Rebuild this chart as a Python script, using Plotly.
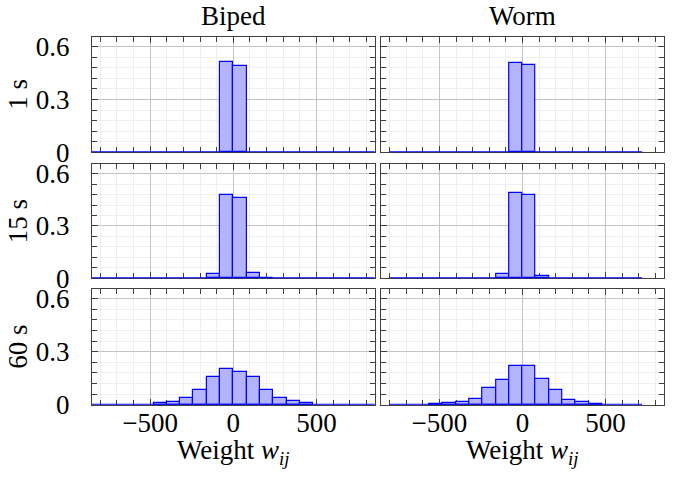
import plotly.graph_objects as go

# ---------------- data ----------------
bin_width = 80
columns = ["Biped", "Worm"]
rows = ["1 s", "15 s", "60 s"]
x_ticks = [-500, 0, 500]
y_ticks = [0, 0.3, 0.6]

# span of the histogram baseline (min/max of data range)
biped_span = [-880, 880]
worm_span = [-800, 720]

# left bin edges and normalised frequencies
biped_1s_edges = [-80, 0]
biped_1s = [0.511, 0.492]
worm_1s_edges = [-80, 0]
worm_1s = [0.506, 0.498]

biped_15s_edges = [-160, -80, 0, 80, 160]
biped_15s = [0.027, 0.480, 0.460, 0.033, 0.004]
worm_15s_edges = [-160, -80, 0, 80]
worm_15s = [0.023, 0.487, 0.476, 0.013]

biped_60s_edges = [-480, -400, -320, -240, -160, -80, 0, 80, 160, 240, 320, 400]
biped_60s = [0.011, 0.014, 0.040, 0.083, 0.157, 0.200, 0.183, 0.156, 0.086, 0.038, 0.019, 0.009]
worm_60s_edges = [-560, -480, -400, -320, -240, -160, -80, 0, 80, 160, 240, 320, 400]
worm_60s = [0.002, 0.007, 0.017, 0.030, 0.093, 0.140, 0.218, 0.217, 0.148, 0.083, 0.028, 0.013, 0.002]

panels = [
    [(biped_1s_edges, biped_1s, biped_span), (worm_1s_edges, worm_1s, worm_span)],
    [(biped_15s_edges, biped_15s, biped_span), (worm_15s_edges, worm_15s, worm_span)],
    [(biped_60s_edges, biped_60s, biped_span), (worm_60s_edges, worm_60s, worm_span)],
]

# ---------------- layout geometry ----------------
W, H = 681, 478
col_px = [(92, 374.7), (381.3, 663.7)]
row_px = [(37, 152.3), (164, 278.3), (289, 404.7)]

FONT = "Liberation Serif"
FS = 27
FILL = "#b3b3ff"
EDGE = "#0000ff"
FRAME = "#404040"

fig = go.Figure()
layout = dict(
    width=W, height=H, autosize=False,
    margin=dict(l=0, r=0, t=0, b=0, autoexpand=False),
    paper_bgcolor="white", plot_bgcolor="white",
    showlegend=False, bargap=0,
    font=dict(family=FONT, size=FS, color="black"),
)

annotations = []
idx = 0
for r in range(3):
    for c in range(2):
        idx += 1
        edges, vals, span = panels[r][c]
        xa = "x" if idx == 1 else f"x{idx}"
        ya = "y" if idx == 1 else f"y{idx}"
        centers = [e + bin_width / 2 for e in edges]
        fig.add_trace(go.Bar(
            x=centers, y=vals, width=bin_width,
            marker=dict(color=FILL, line=dict(color=EDGE, width=1.2)),
            xaxis=xa, yaxis=ya, hoverinfo="skip",
        ))
        fig.add_trace(go.Scatter(
            x=span, y=[0, 0], mode="lines",
            line=dict(color=EDGE, width=2),
            xaxis=xa, yaxis=ya, hoverinfo="skip",
        ))
        x0, x1 = col_px[c]
        yt, yb = row_px[r]
        xkey = "xaxis" if idx == 1 else f"xaxis{idx}"
        ykey = "yaxis" if idx == 1 else f"yaxis{idx}"
        layout[xkey] = dict(
            domain=[x0 / W, x1 / W], anchor=ya, range=[-850, 850],
            automargin=False,
            tickmode="array", tickvals=x_ticks,
            ticktext=[f"{v:d}".replace("-", "\u2212") for v in x_ticks],
            showticklabels=(r == 2),
            ticks="inside", ticklen=6, tickcolor=FRAME, tickwidth=1,
            showline=True, linecolor=FRAME, linewidth=1.2, mirror="allticks",
            showgrid=True, gridcolor="#c4c4c4", gridwidth=1,
            minor=dict(tickmode="linear", tick0=0, dtick=100, ticks="inside",
                       ticklen=5, tickcolor=FRAME, showgrid=True,
                       gridcolor="#efefef", gridwidth=1),
            zeroline=False, layer="below traces",
            tickfont=dict(family=FONT, size=FS),
            ticklabelstandoff=-6,
        )
        layout[ykey] = dict(
            domain=[1 - yb / H, 1 - yt / H], anchor=xa, range=[0, 0.655],
            automargin=False,
            tickmode="array", tickvals=y_ticks,
            ticktext=["0", "0.3", "0.6"],
            showticklabels=(c == 0),
            ticks="inside", ticklen=6, tickcolor=FRAME, tickwidth=1,
            showline=True, linecolor=FRAME, linewidth=1.2, mirror="allticks",
            showgrid=True, gridcolor="#c4c4c4", gridwidth=1,
            minor=dict(tickmode="linear", tick0=0, dtick=0.06, ticks="inside",
                       ticklen=5, tickcolor=FRAME, showgrid=True,
                       gridcolor="#efefef", gridwidth=1),
            zeroline=False, layer="below traces",
            tickfont=dict(family=FONT, size=FS),
            ticklabelstandoff=16,
        )

# column titles
for c, name in enumerate(columns):
    x0, x1 = col_px[c]
    annotations.append(dict(
        text=name, x=(x0 + x1) / 2 / W, y=1 - 16 / H, xref="paper", yref="paper",
        showarrow=False, xanchor="center", yanchor="middle",
        font=dict(family=FONT, size=FS),
    ))
# row labels
for r, name in enumerate(rows):
    yt, yb = row_px[r]
    annotations.append(dict(
        text=name, x=18 / W, y=1 - (yt + yb) / 2 / H, xref="paper", yref="paper",
        showarrow=False, xanchor="center", yanchor="middle", textangle=-90,
        font=dict(family=FONT, size=FS),
    ))
# x-axis titles
for c in range(2):
    x0, x1 = col_px[c]
    annotations.append(dict(
        text="Weight <i>w</i><sub><i>ij</i></sub>", x=(x0 + x1) / 2 / W,
        y=1 - 452 / H, xref="paper", yref="paper",
        showarrow=False, xanchor="center", yanchor="middle",
        font=dict(family=FONT, size=FS),
    ))

layout["annotations"] = annotations
fig.update_layout(**layout)
fig.write_html("out.html", config={"displayModeBar": False},
               post_script="document.body.style.margin='0';")
